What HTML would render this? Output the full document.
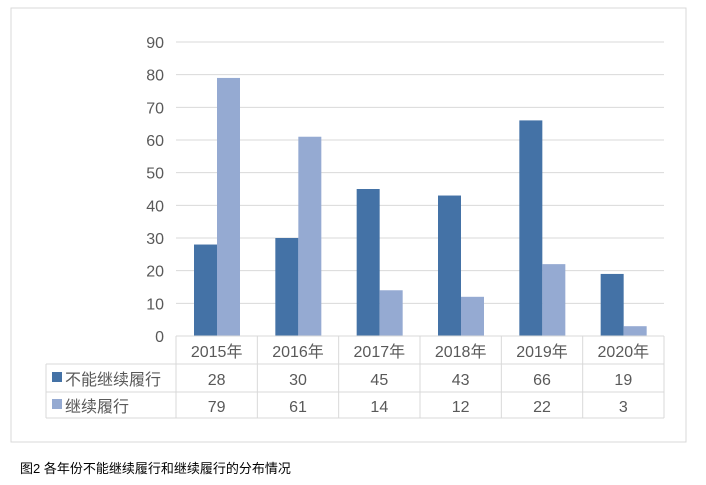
<!DOCTYPE html>
<html><head><meta charset="utf-8"><style>
body{margin:0;background:#fff;width:706px;height:480px;overflow:hidden;font-family:"Liberation Sans","Noto Sans CJK SC",sans-serif}
</style></head><body>
<svg id="c" width="706" height="480" xmlns="http://www.w3.org/2000/svg" font-family="Liberation Sans, Noto Sans CJK SC, sans-serif">
<rect x="11" y="8" width="675" height="434" fill="#fff" stroke="#d9d9d9"/>
<g id="grid"></g><g id="bars"></g><g id="table"></g>
<text x="20" y="473" font-size="13" fill="#000">图2 各年份不能继续履行和继续履行的分布情况</text>
</svg>
<script>
const categories=["2015年","2016年","2017年","2018年","2019年","2020年"];
const seriesNames=["不能继续履行","继续履行"];
const cannotContinue=[28,30,45,43,66,19];
const canContinue=[79,61,14,12,22,3];
const yTicks=[0,10,20,30,40,50,60,70,80,90];
const colors=["#4472a6","#95aad2"];
const NS="http://www.w3.org/2000/svg";
const x0=176,x1=664,y0=336,y90=42;
const bw=(x1-x0)/categories.length;
const y=v=>y0-(v/90)*(y0-y90);
function mk(t,a,p,txt){const e=document.createElementNS(NS,t);for(const k in a)e.setAttribute(k,a[k]);if(txt!=null)e.textContent=txt;p.appendChild(e);return e;}
const g=document.getElementById('grid'),b=document.getElementById('bars'),tb=document.getElementById('table');
yTicks.forEach(v=>{
 const l=mk('line',{x1:x0,x2:x1,y1:y(v),y2:y(v),stroke:'#d9d9d9'},g);
 
 
 const t=mk('text',{x:164,y:y(v)+6,'text-anchor':'end','font-size':16,fill:'#595959'},g,String(v));
 
 
});
const series=[cannotContinue,canContinue];
categories.forEach((c,i)=>{
 series.forEach((s,j)=>{
  const r=mk('rect',{x:x0+i*bw+18+j*23,y:y(s[i]),width:23,height:y0-y(s[i]),fill:colors[j]},b);
  
  
 });
});
// table
const rows=[336,364,392,418];
const lc='#d9d9d9';
[[x0,x1,rows[0]],[46,x1,rows[1]],[46,x1,rows[2]],[46,x1,rows[3]]].forEach(a=>mk('line',{x1:a[0],x2:a[1],y1:a[2],y2:a[2],stroke:lc},tb));
mk('line',{x1:46,x2:46,y1:rows[1],y2:rows[3],stroke:lc},tb);
for(let i=0;i<=categories.length;i++)mk('line',{x1:x0+i*bw,x2:x0+i*bw,y1:rows[0],y2:rows[3],stroke:lc},tb);
categories.forEach((c,i)=>{
 const t=mk('text',{x:x0+i*bw+bw/2,y:357,'text-anchor':'middle','font-size':16,fill:'#595959'},tb,c);
 
 
 series.forEach((s,j)=>{
  const v=mk('text',{x:x0+i*bw+bw/2,y:385+j*27,'text-anchor':'middle','font-size':16,fill:'#595959'},tb,String(s[i]));
  
  
 });
});
seriesNames.forEach((n,j)=>{
 const k=mk('rect',{x:52,y:372+j*27,width:10,height:10,fill:colors[j]},tb);
 
 
 const t=mk('text',{x:65,y:385+j*27,'font-size':16,fill:'#595959'},tb,n);
 
 
});
</script>
</body></html>
